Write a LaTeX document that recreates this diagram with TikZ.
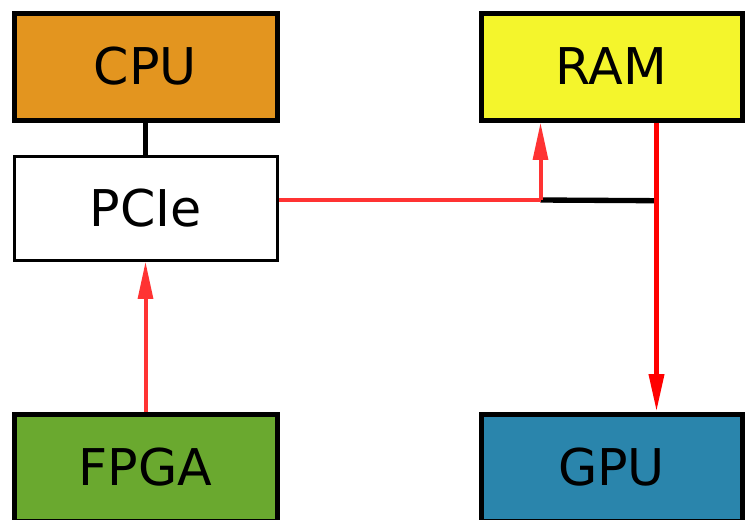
\documentclass[tikz,border=0pt]{standalone}
\usepackage{fontspec}
\setmainfont{DejaVu Sans}
\usetikzlibrary{arrows.meta}
\definecolor{cpuc}{HTML}{E3951F}
\definecolor{ramc}{HTML}{F4F52C}
\definecolor{fpgac}{HTML}{6AA92F}
\definecolor{gpuc}{HTML}{2A85AC}
\definecolor{lred}{HTML}{FF3333}
\tikzset{
  box/.style={draw=black, line width=3.75pt, minimum width=197.25pt, minimum height=80.25pt, inner sep=0pt, font=\fontsize{38}{46}\selectfont},
  pbox/.style={box, line width=2.25pt, fill=white, minimum height=78pt},
  rline/.style={draw=lred, line width=3pt},
  rarrow/.style={rline, -{Triangle[length=28pt,width=11pt]}},
  garrow/.style={draw=red, line width=3.5pt, -{Triangle[length=28pt,width=11pt]}},
  bline/.style={draw=black, line width=4pt}
}
\begin{document}
\begin{tikzpicture}[x=0.75pt,y=-0.75pt]
\useasboundingbox (0,0) rectangle (746,519);
\clip (0,0) rectangle (746,519);
\node[box, fill=cpuc] (CPU) at (145.5,66.5) {CPU};
\node[pbox] (PCIe) at (145.5,208) {PCIe};
\node[box, fill=fpgac] (FPGA) at (145.5,467.5) {FPGA};
\node[box, fill=ramc, minimum width=195.75pt] (RAM) at (611.5,66.5) {RAM};
\node[box, fill=gpuc, minimum width=195.75pt] (GPU) at (611.5,467.5) {GPU};
\coordinate (j) at (540.5,200);
\coordinate (k) at (656.5,200.7);
\draw[bline] (CPU.south) -- (PCIe.north);
\draw[rarrow] (FPGA.north) -- (PCIe.south);
\draw[bline] (j) -- (k);
\draw[rline] (PCIe.east |- j) -- (j);
\draw[rarrow] (j) -- (j |- RAM.south);
\draw[garrow] (RAM.south -| k) -- (GPU.north -| k);
\end{tikzpicture}
\end{document}
